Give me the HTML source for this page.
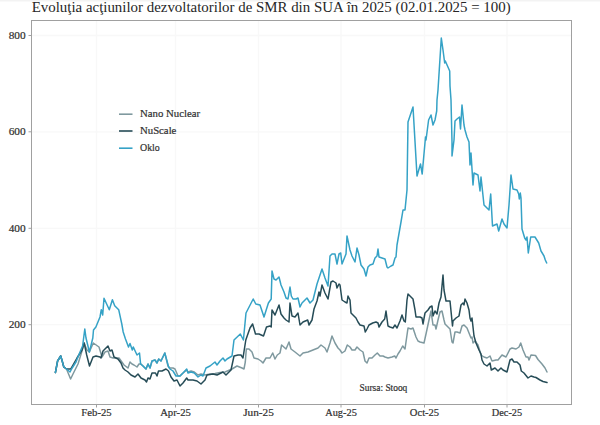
<!DOCTYPE html>
<html><head><meta charset="utf-8"><style>
html,body{margin:0;padding:0;background:#fff;}
body{width:600px;height:425px;overflow:hidden;}
svg{display:block;}
text{font-family:"Liberation Serif",serif;fill:#2b2b2b;stroke:#2b2b2b;stroke-width:0.2px;}
.ax{font-size:10.5px;fill:#333;}
.lg{font-size:10.5px;fill:#333;}
.src{font-size:9.5px;fill:#333;}
.ttl{font-size:14.5px;fill:#262626;stroke:none;}
</style></head><body>
<svg width="600" height="425" viewBox="0 0 600 425">
<rect x="0" y="0" width="600" height="425" fill="#fff"/><rect x="0" y="0" width="600" height="1.5" fill="#f3f3f3"/>
<line x1="31.5" x2="571.5" y1="35.5" y2="35.5" stroke="#f8f8f8" stroke-width="1.3"/>
<line x1="31.5" x2="571.5" y1="131.8" y2="131.8" stroke="#f8f8f8" stroke-width="1.3"/>
<line x1="31.5" x2="571.5" y1="228.3" y2="228.3" stroke="#f8f8f8" stroke-width="1.3"/>
<line x1="31.5" x2="571.5" y1="324.7" y2="324.7" stroke="#f8f8f8" stroke-width="1.3"/>
<line x1="96.5" x2="96.5" y1="20.5" y2="404.5" stroke="#f8f8f8" stroke-width="1.3"/>
<line x1="175.5" x2="175.5" y1="20.5" y2="404.5" stroke="#f8f8f8" stroke-width="1.3"/>
<line x1="258.5" x2="258.5" y1="20.5" y2="404.5" stroke="#f8f8f8" stroke-width="1.3"/>
<line x1="341" x2="341" y1="20.5" y2="404.5" stroke="#f8f8f8" stroke-width="1.3"/>
<line x1="424.5" x2="424.5" y1="20.5" y2="404.5" stroke="#f8f8f8" stroke-width="1.3"/>
<line x1="507" x2="507" y1="20.5" y2="404.5" stroke="#f8f8f8" stroke-width="1.3"/>
<g fill="none" stroke-width="1.5" stroke-linejoin="round" stroke-linecap="round">
<path d="M55.4,372.5 L57.6,361 L60.7,356 L62.2,361 L63.8,367 L66.5,369 L70.6,379 L73,374 L78,364 L82,351 L84,343 L87,350 L89.3,352 L93.3,343 L99,347 L102,357 L105,352 L108,351 L110,357 L113,358 L119,358 L124,365 L128,368 L130,362 L132,364 L134,365 L137,367 L139,364 L141,364 L143,366 L146,369 L148,364 L150,368 L152,361 L155,360 L157,363 L158.7,359 L161,361 L164.8,353 L168,366 L170,368 L173,368 L175,369 L178,376 L180,376 L183,373 L186.7,370 L188,372 L191,371 L194.3,372 L198,375 L201,374 L205,375 L210,374 L215,373.5 L220,372.5 L225,372 L232,369 L237,366 L242,368 L244,369 L245.3,362 L246.3,349 L249,349 L252,352 L254,358 L258,359 L261,361 L263,363 L266,358 L270,358 L272.7,353 L275,359 L277.3,355 L280,353 L281.6,345 L286,349 L289,342 L291,349 L295,352 L300,356 L303,353 L308,352 L313,350 L318,348 L321,345 L325,348 L327,352 L330,343 L332,336 L335,343 L338,348 L340,350 L342,353 L345,351 L347.3,345 L350,347 L352,350 L355,350 L357,347 L360,350 L363,352 L365,361 L367,363 L369,358 L372,358 L375,355 L377.3,353 L380,356 L383,356 L385,357 L388,358 L392,357 L394.7,356 L396,358 L398,354 L400,351 L402.7,346 L405,349 L407,335 L408,328 L411,329 L413,328 L416,337 L418,341 L420,342 L424,343 L426,334 L429,320 L431,311 L433,325 L435,325 L436,329 L438,320 L440,312 L442,311 L444,320 L445,324 L450,329 L452,342 L453,343 L455,332 L457,332 L460,333 L462,326 L464,325 L467,328 L469,333 L471,338 L472,337 L473,343 L475,341 L478,345 L481,355 L484,357 L487,358 L490,356 L492,361 L496,360 L498,360 L502,355 L506,357 L510,349 L512,348 L516,349 L519,347 L520.7,343 L523,350 L526,357 L528,357 L529,360 L531,355 L535.5,355.5 L538,359.5 L542,364 L545,368 L547,372" stroke="#7f999f"/>
<path d="M55.4,372.5 L57.6,361 L60.7,356 L62.2,361 L63.8,367 L66.5,369 L70.7,369 L73,365 L77,358 L82,350 L84.2,343 L86.7,355 L89.5,366 L93,357 L96,356 L100,357 L101,358 L103,351 L108,346 L110,351 L112,350 L114,357 L118,359 L121,363 L123,368 L125,370 L128,372 L131,375 L135,377 L138,374 L141,378 L145,380 L146.5,382 L148,378 L150,379 L152,373 L155.5,373 L157,376 L158.5,371 L162,371 L166,369 L168.5,371 L171,377 L174,381 L177,380 L180,386 L183,383 L186.7,378 L188,380 L193,380 L197,381 L201,384 L205,380 L207,375 L213,374 L217,375 L223,372 L226,375 L231,370 L234,356 L238,355 L241,355 L243,358 L245.8,340 L250,328 L252.6,324 L255.5,334 L259,334 L263.5,336 L266.5,327 L270,326 L271.2,327 L272,310 L275,315 L279,305 L281,314 L284,318 L286,320 L289,322 L290,303 L292,316 L295,317 L298,313 L300,325 L303,322 L307.7,320 L309,325 L312,320 L314,309 L317,301 L319,292 L320,296 L322,285 L325,293 L328,299 L331,282 L333,281 L336,283 L337,288 L339,284 L340,285 L342,300 L345,302 L347,303 L348,296 L350,300 L351,313 L354,316 L356,318 L358,322 L360,325 L364,326 L365.3,332 L367,329 L369,325 L372.7,323 L376,322 L378,323 L379,327 L382,322 L384.7,319 L386,311 L388,326 L390,327 L393,328 L395,325 L397,328 L400,321 L402,315 L404,321 L405.3,322 L407,300 L408,294 L410,296 L413,299 L415,310 L416,317 L420,317 L422,318 L423,324 L425,313 L428,310 L430,307 L432,306 L433,316 L435,311 L437,314 L439,303 L441,297 L443,275 L444,290 L446,301 L450,301 L452.5,326 L453,321 L456,318 L459,316 L461,305 L463,303 L464,305 L465,299 L467,303 L469,310 L470,318 L471,321 L472,318 L474,336 L476,343 L479,350 L481,354 L482,360 L484,364 L487,366 L490,363 L491.3,370 L495,368 L498,371 L501,368 L503,370 L507,372 L510,360 L512,359 L514,362 L517,362 L520,365 L521.3,371 L524,373 L528,378 L531,376 L534,377 L536,377.5 L540,380 L543,381.5 L547,382.5" stroke="#264c57"/>
<path d="M55.4,372.5 L57.6,361 L60.7,356 L62.2,361 L63.8,367 L66.5,369 L70,372 L72.2,368 L76,362 L80,352 L82.6,346 L84.8,329 L86,338 L89.4,352 L92.8,338 L93.5,330 L95.9,327 L100,317 L101.3,309.7 L102.7,315 L104,298.3 L109.3,309.7 L112.4,299.7 L114.7,305.7 L118.7,309.7 L121.8,324 L123.2,332 L125.4,338.7 L128.5,347 L130,343.5 L132.3,350 L133.3,347 L137,355 L139.5,353 L140.6,364 L143,366 L146,369 L148,364 L150,368 L152,361 L155,360 L157,363 L158.7,359 L161,361 L164.8,353 L168.6,367 L170,369 L173,371 L176,376 L180,376 L183,373 L186.7,369 L188,373 L191,372 L194.3,373 L198,377 L201,375 L203,376 L206,368 L210,366 L215,362 L217,365 L220,361 L223,358 L225,361 L227,359 L232,356 L234,340 L240.3,334 L243.4,340 L246,313 L253.2,299 L255.8,304 L260,305 L264,317 L268.4,303 L271.2,299 L272,271 L274,279 L276,280 L279,277 L281,285 L284,292 L286,298 L288,299 L290,287 L291.3,296 L293,299 L296,299 L298,298 L300,307 L302,303 L305,300 L307,298 L310,303 L313,300 L317,284 L322,269 L325,278 L328,286 L330,256 L332,254 L335,254 L337,264 L339,254 L340.7,253 L342,264 L346,254 L347,236 L350,250 L352,256 L355,262 L357,248 L359,255 L361,265 L364,269 L366,276 L368,267 L370,265 L373,264 L375,258 L377,256 L378,249 L379,257 L382,258 L385,259 L387,267 L388,268 L391,266 L393,265 L395,258 L396,257 L397,245 L401,222 L403,210 L405,210 L407,190 L408,122 L413,107 L417,176 L420.5,164 L422.2,174 L425.5,137 L426,140 L428.6,120 L431,115 L433,125 L435,120 L436.7,111 L437,100 L438,90 L441.3,38 L443,50 L444.7,63 L445.3,61 L449.7,71 L450,86 L451,100 L452,142 L452,156 L454,140 L455,121 L457,119 L459.5,117 L460.5,129 L462,105 L464,125 L465,130 L467,137 L469,142 L470,165 L471,153 L473,185 L474,173 L478,175 L480,191 L481,177 L484,205 L487,208 L489,210 L490.7,194 L492.5,226 L497,224 L498.7,231 L502,219 L504,224 L507,228 L509,205 L511,175 L513,189 L517,190 L518.7,194 L519.3,199 L520.3,193 L521,198 L522,229 L524.7,238 L526,240 L527,237 L528.3,253 L530.7,237 L535,237 L538.7,243 L541,251 L544,256 L545.3,260 L546.7,263" stroke="#35a2c6"/>
</g>
<rect x="31.5" y="20.5" width="540.0" height="384.0" fill="none" stroke="#a0a0a0" stroke-width="1"/>
<line x1="28.5" x2="31.5" y1="35.5" y2="35.5" stroke="#a0a0a0" stroke-width="1"/>
<text x="25.7" y="38.8" text-anchor="end" class="ax" textLength="17" lengthAdjust="spacingAndGlyphs">800</text>
<line x1="28.5" x2="31.5" y1="131.8" y2="131.8" stroke="#a0a0a0" stroke-width="1"/>
<text x="25.7" y="135.10000000000002" text-anchor="end" class="ax" textLength="17" lengthAdjust="spacingAndGlyphs">600</text>
<line x1="28.5" x2="31.5" y1="228.3" y2="228.3" stroke="#a0a0a0" stroke-width="1"/>
<text x="25.7" y="231.60000000000002" text-anchor="end" class="ax" textLength="17" lengthAdjust="spacingAndGlyphs">400</text>
<line x1="28.5" x2="31.5" y1="324.7" y2="324.7" stroke="#a0a0a0" stroke-width="1"/>
<text x="25.7" y="328.0" text-anchor="end" class="ax" textLength="17" lengthAdjust="spacingAndGlyphs">200</text>
<line x1="96.5" x2="96.5" y1="404.5" y2="407.5" stroke="#a0a0a0" stroke-width="1"/>
<text x="96.5" y="415.8" text-anchor="middle" class="ax" textLength="30.3" lengthAdjust="spacingAndGlyphs">Feb-25</text>
<line x1="175.5" x2="175.5" y1="404.5" y2="407.5" stroke="#a0a0a0" stroke-width="1"/>
<text x="175.5" y="415.8" text-anchor="middle" class="ax" textLength="30.7" lengthAdjust="spacingAndGlyphs">Apr-25</text>
<line x1="258.5" x2="258.5" y1="404.5" y2="407.5" stroke="#a0a0a0" stroke-width="1"/>
<text x="258.5" y="415.8" text-anchor="middle" class="ax" textLength="30.7" lengthAdjust="spacingAndGlyphs">Jun-25</text>
<line x1="341" x2="341" y1="404.5" y2="407.5" stroke="#a0a0a0" stroke-width="1"/>
<text x="341" y="415.8" text-anchor="middle" class="ax" textLength="31.7" lengthAdjust="spacingAndGlyphs">Aug-25</text>
<line x1="424.5" x2="424.5" y1="404.5" y2="407.5" stroke="#a0a0a0" stroke-width="1"/>
<text x="424.5" y="415.8" text-anchor="middle" class="ax" textLength="29.3" lengthAdjust="spacingAndGlyphs">Oct-25</text>
<line x1="507" x2="507" y1="404.5" y2="407.5" stroke="#a0a0a0" stroke-width="1"/>
<text x="507" y="415.8" text-anchor="middle" class="ax" textLength="30.3" lengthAdjust="spacingAndGlyphs">Dec-25</text>
<line x1="119" x2="132.5" y1="114.2" y2="114.2" stroke="#7f999f" stroke-width="1.6"/>
<text x="140" y="117.2" class="lg" textLength="60.2" lengthAdjust="spacingAndGlyphs">Nano Nuclear</text>
<line x1="119" x2="132.5" y1="131" y2="131" stroke="#264c57" stroke-width="1.6"/>
<text x="140" y="134" class="lg" textLength="36.4" lengthAdjust="spacingAndGlyphs">NuScale</text>
<line x1="119" x2="132.5" y1="148.2" y2="148.2" stroke="#35a2c6" stroke-width="1.6"/>
<text x="140" y="151.2" class="lg" textLength="19.8" lengthAdjust="spacingAndGlyphs">Oklo</text>
<text x="359.6" y="391" class="src" textLength="47.7" lengthAdjust="spacingAndGlyphs">Sursa: Stooq</text>
<text x="31.7" y="11.6" class="ttl" textLength="479" lengthAdjust="spacingAndGlyphs">Evoluţia acţiunilor dezvoltatorilor de SMR din SUA în 2025 (02.01.2025 = 100)</text>
</svg>
</body></html>
